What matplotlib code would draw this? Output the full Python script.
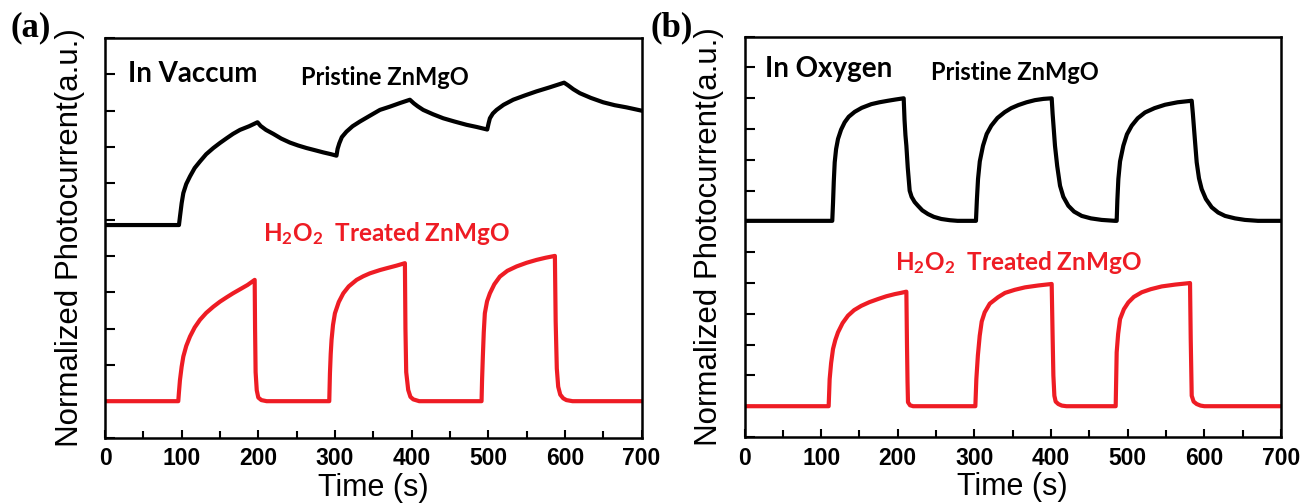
import matplotlib
matplotlib.use("Agg")
import matplotlib.pyplot as plt
from matplotlib.ticker import MultipleLocator

# ---------------- data ----------------
# Panel (a): in vacuum
a_black_t = [0, 96.5, 97.8, 100, 102.2, 106, 110.9, 117, 123.9, 132, 141.3, 150, 158.7, 167, 176.1, 188, 199,
             203, 210, 219.6, 230, 241.3, 252, 263, 274, 284.8, 295, 302,
             303.5, 305.7, 309, 315, 323, 332.6, 345.6, 358.7, 371.7, 385, 397.8,
             403, 408, 415.2, 428, 441.3, 456, 471.7, 485, 498.7,
             500.5, 502.2, 506, 510.9, 520, 532.6, 548, 563, 580, 599,
             604, 611, 619.6, 634, 650, 665, 680.4, 700]
a_black_v = [5.85, 5.85, 6.08, 6.45, 6.73, 6.98, 7.19, 7.42, 7.60, 7.80, 7.97, 8.11, 8.24, 8.36, 8.47, 8.57, 8.68,
             8.58, 8.47, 8.36, 8.23, 8.12, 8.04, 7.97, 7.91, 7.85, 7.80, 7.76,
             7.95, 8.10, 8.27, 8.42, 8.57, 8.70, 8.86, 9.02, 9.11, 9.21, 9.30,
             9.20, 9.12, 9.02, 8.90, 8.79, 8.70, 8.61, 8.55, 8.48,
             8.65, 8.79, 8.92, 9.02, 9.16, 9.30, 9.42, 9.53, 9.64, 9.77,
             9.70, 9.59, 9.48, 9.35, 9.23, 9.15, 9.09, 9.00]

a_red_t = [0, 95.6, 96.5, 97.8, 100, 102.2, 106, 110.9, 117, 123.9, 132, 141.3, 150, 158.7, 167, 176.1, 186, 195.3,
           195.8, 196.5, 198, 200, 204, 210.9,
           292.6, 293.5, 294.5, 295.6, 297.5, 300, 305, 310.9, 318, 328.3, 337, 345.6, 358.7, 367.4, 380, 391.3,
           392, 393, 395.6, 398.5, 402.2, 410,
           491.3, 492, 493, 494.2, 495.6, 498.5, 502.2, 508, 515.2, 525, 537, 550, 563, 575, 587,
           588, 589.5, 591.3, 594, 597.8, 602, 610, 700]
a_red_v = [1.0, 1.0, 1.25, 1.58, 1.95, 2.23, 2.52, 2.78, 3.03, 3.24, 3.43, 3.60, 3.74, 3.86, 3.97, 4.08, 4.20, 4.34,
           3.0, 1.80, 1.30, 1.10, 1.03, 1.0,
           1.0, 1.77, 2.30, 2.69, 3.10, 3.42, 3.73, 3.97, 4.16, 4.34, 4.44, 4.52, 4.61, 4.66, 4.73, 4.80,
           3.0, 1.8, 1.31, 1.12, 1.05, 1.0,
           1.0, 1.6, 2.23, 2.90, 3.42, 3.75, 3.97, 4.22, 4.43, 4.59, 4.71, 4.81, 4.89, 4.95, 5.0,
           3.2, 1.9, 1.40, 1.18, 1.08, 1.03, 1.0, 1.0]

# Panel (b): in oxygen
b_black_t = [0, 114.5, 115.5, 116.5, 117.7, 119.5, 122, 126, 130.7, 136, 143.8, 153, 165.5, 176, 187.2, 197, 207.7,
             208.8, 210, 211.2, 213, 215.5, 218, 222, 226.3, 232, 239.4, 247, 256.8, 268, 278, 302,
             303.2, 304.7, 307, 311.2, 316, 322, 330, 339.5, 348, 357.3, 368, 379, 390, 400.8,
             402, 403.5, 405.1, 408, 411.7, 416, 422.5, 430, 440, 452, 466, 483.4, 485.6,
             486.5, 487.8, 490, 494.3, 499, 505.2, 513, 522.6, 535, 548.7, 565, 583.5,
             585, 587.5, 590, 593, 596.5, 602, 609.6, 618, 627, 640, 653, 670, 700]
b_black_v = [7.02, 7.02, 7.6, 8.3, 8.92, 9.35, 9.68, 9.98, 10.22, 10.40, 10.56, 10.69, 10.81, 10.87, 10.92, 10.96, 11.0,
             10.3, 9.8, 9.46, 8.75, 8.0, 7.80, 7.63, 7.51, 7.36, 7.24, 7.15, 7.08, 7.04, 7.02, 7.02,
             7.7, 8.38, 8.95, 9.46, 9.84, 10.11, 10.36, 10.55, 10.68, 10.78, 10.87, 10.94, 10.98, 11.0,
             10.5, 10.0, 9.46, 8.8, 8.16, 7.80, 7.51, 7.32, 7.18, 7.10, 7.05, 7.02, 7.02,
             7.7, 8.38, 8.95, 9.46, 9.83, 10.11, 10.35, 10.54, 10.68, 10.79, 10.87, 10.92,
             10.5, 9.7, 8.92, 8.40, 8.05, 7.73, 7.46, 7.29, 7.18, 7.10, 7.05, 7.02, 7.02]

b_red_t = [0, 109.8, 110.4, 111.1, 113, 115.5, 118.5, 122, 128, 135, 143, 152.4, 163, 174.2, 185, 196, 204, 211.2,
           212, 212.7, 213.3, 216, 220,
           301.2, 301.8, 302.5, 304.5, 306.9, 309.5, 313.4, 320, 330.8, 339.9, 352.6, 366, 383, 400.8,
           402, 403, 404.3, 406, 409.5, 414, 420,
           484.3, 484.9, 485.6, 487.5, 490, 495, 500.8, 508, 518.3, 530, 544.4, 562, 581.3,
           582.2, 583.5, 586, 590, 595, 600, 700]
b_red_v = [1.0, 1.0, 1.4, 1.88, 2.40, 2.86, 3.15, 3.40, 3.70, 3.94, 4.12, 4.26, 4.38, 4.48, 4.57, 4.64, 4.68, 4.72,
           3.0, 1.8, 1.13, 1.03, 1.0,
           1.0, 1.4, 1.88, 2.65, 3.29, 3.75, 4.05, 4.33, 4.54, 4.68, 4.78, 4.86, 4.92, 4.97,
           3.3, 2.0, 1.34, 1.15, 1.07, 1.02, 1.0,
           1.0, 1.8, 2.75, 3.35, 3.83, 4.15, 4.37, 4.55, 4.70, 4.80, 4.89, 4.95, 5.0,
           3.2, 1.34, 1.15, 1.07, 1.02, 1.0, 1.0]

x_ticks = [0, 100, 200, 300, 400, 500, 600, 700]
panel_letters = ["(a)", "(b)"]
env_labels = ["In Vaccum", "In Oxygen"]
pristine_label = "Pristine ZnMgO"
treated_label = "H$_2$O$_2$  Treated ZnMgO"
xlabel = "Time (s)"
ylabel = "Normalized Photocurrent(a.u.)"

# ---------------- figure ----------------
plt.rcParams['mathtext.fontset'] = 'custom'
plt.rcParams['mathtext.bf'] = 'Lato:bold'
plt.rcParams['mathtext.rm'] = 'Lato:bold'
plt.rcParams['mathtext.default'] = 'bf'

fig = plt.figure(figsize=(13.05, 5.04), dpi=100)
W, H = 1305, 504
ax_a = fig.add_axes([105 / W, 1 - 437.5 / H, 536.5 / W, 399.5 / H])
ax_b = fig.add_axes([744.5 / W, 1 - 437.0 / H, 536.5 / W, 400.3 / H])

RED = "#ee1c24"
panels = [
    (ax_a, a_black_t, a_black_v, a_red_t, a_red_v, 11,
     (30, 10.0), (256, 9.92), (206, 5.63)),
    (ax_b, b_black_t, b_black_v, b_red_t, b_red_v, 13,
     (26.7, 11.95), (243, 11.85), (197, 5.68)),
]

for i, (ax, bt, bv, rt, rv, ytop, env_pos, pri_pos, trt_pos) in enumerate(panels):
    ax.plot(bt, bv, color="black", lw=3.0, solid_joinstyle="round")
    ax.plot(rt, rv, color=RED, lw=3.0, solid_joinstyle="round")
    ax.set_xlim(0, 700)
    ax.set_ylim(0, ytop)
    ax.set_xticks(x_ticks)
    ax.xaxis.set_minor_locator(MultipleLocator(50))
    ax.yaxis.set_major_locator(MultipleLocator(1))
    ax.set_yticklabels([])
    ax.tick_params(axis="both", which="both", direction="in", top=False, right=False, width=1.5)
    ax.tick_params(axis="x", which="major", length=6, pad=7)
    ax.tick_params(axis="x", which="minor", length=5)
    ax.tick_params(axis="y", which="major", length=7)
    for lab in ax.get_xticklabels():
        lab.set_fontfamily("Liberation Sans")
        lab.set_fontweight("bold")
        lab.set_fontsize(16.5)
    for sp in ax.spines.values():
        sp.set_linewidth(1.8)
    ax.set_xlabel(xlabel, fontsize=22, family="Liberation Sans", labelpad=2)
    ax.set_ylabel(ylabel, fontsize=22.5, family="Liberation Sans", labelpad=11)

    ax.text(env_pos[0], env_pos[1], env_labels[i], fontsize=20, family="Lato",
            fontweight="bold", ha="left", va="center")
    ax.text(pri_pos[0], pri_pos[1], pristine_label, fontsize=17, family="Lato",
            fontweight="bold", ha="left", va="center")
    ax.text(trt_pos[0], trt_pos[1], treated_label, fontsize=17.5, family="Lato",
            fontweight="bold", color=RED, ha="left", va="center")

fig.text(10 / W, 1 - 28 / H, panel_letters[0], fontsize=25, family="Liberation Serif",
         fontweight="bold", ha="left", va="center")
fig.text(650 / W, 1 - 28 / H, panel_letters[1], fontsize=25, family="Liberation Serif",
         fontweight="bold", ha="left", va="center")

fig.savefig("out.png", dpi=100)
